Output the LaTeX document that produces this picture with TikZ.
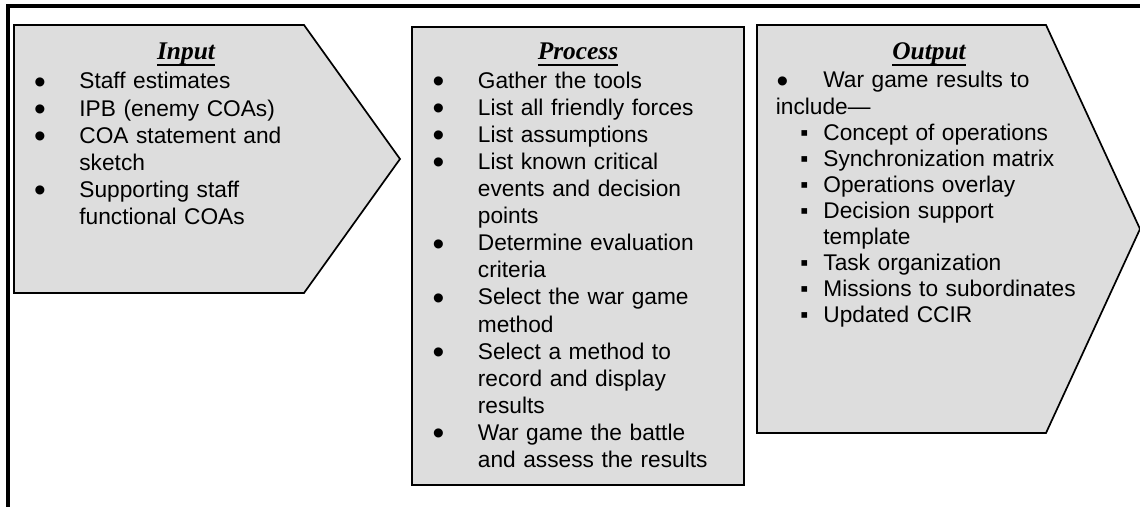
\documentclass[tikz,border=0pt]{standalone}
\usepackage{fontspec}
\setmainfont{Liberation Sans}
\newfontfamily\headfont{Liberation Serif}
\definecolor{boxfill}{RGB}{221,221,221}
% heading underline, set below the baseline like a word processor does
\newcommand{\ulhead}[1]{\setbox0\hbox{#1}\rlap{\rule[-3pt]{\wd0}{1pt}}\box0}
% list entries with hanging lines
\newcommand{\bigdot}{\raisebox{-2.1pt}{\fontsize{16.7pt}{16.7pt}\selectfont •}}
\newcommand{\dotitem}{\hangindent=24.5pt\hangafter=1\makebox[24.5pt][l]{\hspace*{4.75pt}\makebox[0pt]{\bigdot}}}
\newcommand{\sqitem}{\hangindent=23.75pt\hangafter=1\makebox[23.75pt][l]{\hspace*{14.25pt}\makebox[0pt]{▪}}}
\begin{document}
\begin{tikzpicture}[x=0.5pt,y=0.5pt,yscale=-1,xscale=1,
  frame/.style={line width=1.9pt},
  panel/.style={draw, fill=boxfill, line width=0.85pt},
  head/.style={anchor=base, inner sep=0pt, font=\headfont\bfseries\itshape\fontsize{12.7pt}{15pt}\selectfont},
  bullets/.style={anchor=base west, inner sep=0pt, text width=165pt, align=left, font=\fontsize{11.35pt}{13.53pt}\selectfont}]
\useasboundingbox (0,0) rectangle (1140,507);

%Shape: Frame
\draw [frame] (8,530) -- (8,6) -- (1160,6) ;
%Shape: Polygon
\draw [panel] (14,25) -- (304,25) -- (400,159) -- (304,293) -- (14,293) -- cycle ;
%Shape: Rectangle
\draw [panel] (412,27) -- (744,27) -- (744,485) -- (412,485) -- cycle ;
%Shape: Polygon
\draw [panel] (757,25) -- (1046,25) -- (1140,229) -- (1046,433) -- (757,433) -- cycle ;

% Text Node
\draw (186,60) node [head] (inhead) {\ulhead{Input}};
% Text Node
\draw (30,89) node [bullets] (inlist) {\dotitem Staff estimates\par
\dotitem IPB (enemy COAs)\par
\dotitem COA statement and\newline sketch\par
\dotitem Supporting staff\newline functional COAs\par};

% Text Node
\draw (578,60) node [head] (prochead) {\ulhead{Process}};
% Text Node
\draw (428.5,88.5) node [bullets] (proclist) {\dotitem Gather the tools\par
\dotitem List all friendly forces\par
\dotitem List assumptions\par
\dotitem List known critical\newline events and decision\newline points\par
\dotitem Determine evaluation\newline criteria\par
\dotitem Select the war game\newline method\par
\dotitem Select a method to\newline record and display\newline results\par
\dotitem War game the battle\newline and assess the results\par};

% Text Node
\draw (929,60) node [head] (outhead) {\ulhead{Output}};
% Text Node
\draw (775.5,88) node [bullets, font=\fontsize{11.35pt}{13.05pt}\selectfont] (outlist) {\makebox[23.75pt][l]{\hspace*{3.25pt}\makebox[0pt]{\bigdot}}War game results to\newline include—\par
\sqitem Concept of operations\par
\sqitem Synchronization matrix\par
\sqitem Operations overlay\par
\sqitem Decision support\newline template\par
\sqitem Task organization\par
\sqitem Missions to subordinates\par
\sqitem Updated CCIR\par};
\end{tikzpicture}
\end{document}
